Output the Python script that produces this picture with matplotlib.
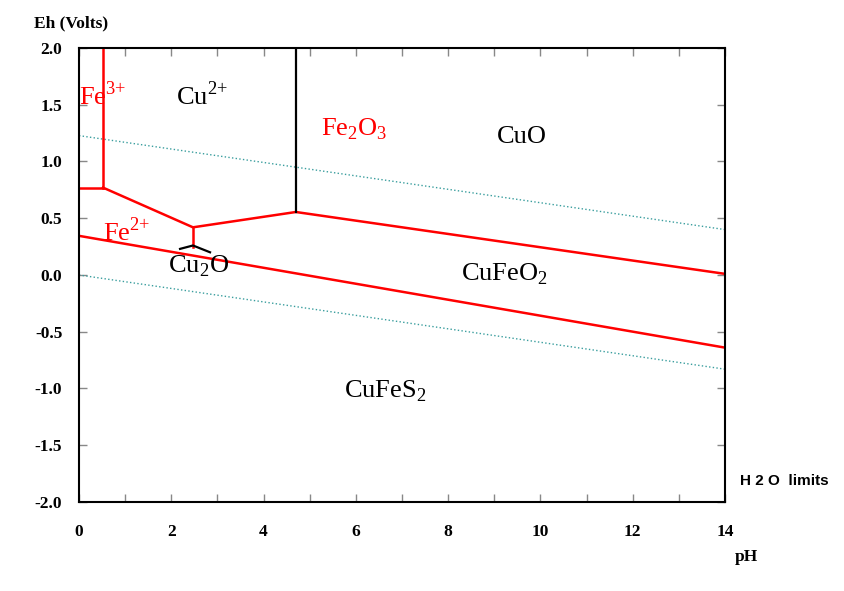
import numpy as np
import matplotlib.pyplot as plt

plt.rcParams['font.family'] = ['Liberation Serif', 'DejaVu Serif']
plt.rcParams['mathtext.fontset'] = 'custom'
plt.rcParams['mathtext.rm'] = 'Liberation Serif'

# grenzen van de stabiliteitsvelden (pH, Eh)
fe3_fe2_ph = [0.0, 0.52]
fe3_fe2_eh = [0.77, 0.77]
fe3_fe2o3_ph = [0.52, 0.52]
fe3_fe2o3_eh = [0.77, 2.0]
fe2_upper_ph = [0.52, 2.47, 4.70, 14.0]
fe2_upper_eh = [0.77, 0.42, 0.555, 0.01]
fe2_cu2o_ph = [2.47, 2.47]
fe2_cu2o_eh = [0.42, 0.25]
lower_ph = [0.0, 14.0]
lower_eh = [0.345, -0.64]
cu2_cuo_ph = [4.70, 4.70]
cu2_cuo_eh = [0.555, 2.0]
cu2o_ph = [2.19, 2.47, 2.84]
cu2o_eh = [0.23, 0.26, 0.20]

# H2O grenzen
h2o_ph = [0.0, 14.0]
h2o_top = [1.228, 0.40]
h2o_bot = [0.0, -0.83]

# labels
labels = ['Fe$^{3{+}}$', 'Cu$^{2{+}}$', 'Fe$_2$O$_3$', 'CuO', 'Fe$^{2{+}}$',
          'Cu$_2$O', 'CuFeO$_2$', 'CuFeS$_2$']
label_ph = [0.0, 2.1, 5.25, 9.06, 0.52, 1.92, 8.28, 5.74]
label_eh = [1.58, 1.58, 1.28, 1.22, 0.38, 0.08, 0.01, -1.02]
label_col = ['red', 'black', 'red', 'black', 'red', 'black', 'black', 'black']

fig = plt.figure(figsize=(8.44, 5.91), dpi=100)
ax = fig.add_axes([0.0936, 0.1506, 0.7654, 0.7682])

ax.plot(h2o_ph, h2o_top, color='#3a9e9e', linestyle=':', linewidth=1.0)
ax.plot(h2o_ph, h2o_bot, color='#3a9e9e', linestyle=':', linewidth=1.0)

red = '#ff0000'
lw = 1.8
ax.plot(fe3_fe2_ph, fe3_fe2_eh, color=red, linewidth=lw)
ax.plot(fe3_fe2o3_ph, fe3_fe2o3_eh, color=red, linewidth=lw)
ax.plot(fe2_upper_ph, fe2_upper_eh, color=red, linewidth=lw)
ax.plot(fe2_cu2o_ph, fe2_cu2o_eh, color=red, linewidth=lw)
ax.plot(lower_ph, lower_eh, color=red, linewidth=lw)
ax.plot(cu2_cuo_ph, cu2_cuo_eh, color='black', linewidth=1.6)
ax.plot(cu2o_ph, cu2o_eh, color='black', linewidth=1.6)

for t, px, ey, c in zip(labels, label_ph, label_eh, label_col):
    ax.text(px, ey, t, color=c, fontsize=19, ha='left', va='center')

ax.set_xlim(0, 14)
ax.set_ylim(-2.0, 2.0)
ax.set_xticks(np.arange(0, 15, 2))
ax.set_xticks(np.arange(0, 15, 1), minor=True)
ax.set_yticks(np.arange(-2.0, 2.01, 0.5))
ax.set_xticklabels([str(v) for v in range(0, 15, 2)], fontweight='bold', fontsize=12.5)
ax.set_yticklabels(['%.1f' % v for v in np.arange(-2.0, 2.01, 0.5)], fontweight='bold', fontsize=12.5)
ax.tick_params(which='both', direction='in', length=6, color='#888888', width=1,
               top=True, right=True)
ax.tick_params(axis='x', which='major', pad=16)
ax.tick_params(axis='y', which='major', pad=12)
for s in ax.spines.values():
    s.set_linewidth(1.5)

fig.text(0.04, 0.96, 'Eh (Volts)', fontweight='bold', fontsize=12.5, ha='left', va='center')
fig.text(0.871, 0.057, 'pH', fontweight='bold', fontsize=12.5, ha='left', va='center')
fig.text(0.877, 0.186, 'H 2 O  limits', family=['Liberation Sans', 'DejaVu Sans'],
         fontweight='bold', fontsize=11, ha='left', va='center')

plt.savefig('out.png', dpi=100)
